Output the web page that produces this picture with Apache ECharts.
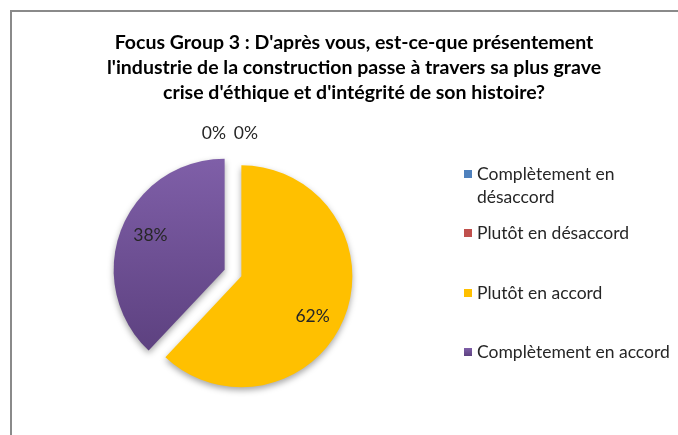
<!DOCTYPE html>
<html>
<head>
<meta charset="utf-8">
<script src="https://cdn.jsdelivr.net/npm/echarts@6/dist/echarts.min.js"></script>
<style>
  html, body { margin: 0; padding: 0; background: #ffffff; }
  #chart { width: 678px; height: 435px; }
</style>
</head>
<body>
<div id="chart"></div>
<script>
// Survey answers and their shares (percent)
const titleLines = [
  "Focus Group 3 : D'après vous, est-ce-que présentement",
  "l'industrie de la construction passe à travers sa plus grave",
  "crise d'éthique et d'intégrité de son histoire?"
];
const categories = [
  'Complètement en désaccord',
  'Plutôt en désaccord',
  'Plutôt en accord',
  'Complètement en accord'
];
const shares = [0, 0, 62, 38];
const colors = ['#4F81BD', '#C0504D', '#FFC000', '#8064A2'];

const FONT = 'Lato';

const purpleFill = new echarts.graphic.LinearGradient(0, 0, 0, 1, [
  { offset: 0, color: '#7F5FA8' },
  { offset: 1, color: '#5D4180' }
]);
const sliceFill = [colors[0], colors[1], colors[2], purpleFill];

const pieCenter = [233, 273];
const pieRadius = 111;

// Nudges for the value labels (dx, dy) so they sit where the slice labels belong
const labelNudge = [[-2, -11.5], [30, -11.5], [-6, 9], [3, -4]];

const chart = echarts.init(document.getElementById('chart'), null, { renderer: 'canvas' });

const sliceData = categories.map((name, i) => ({
  name: name,
  value: shares[i],
  selected: true,
  itemStyle: { color: sliceFill[i] }
}));

const labelData = categories.map((name, i) => ({
  name: name,
  value: shares[i],
  selected: true,
  label: shares[i] === 0
    ? { position: 'outside' }
    : { position: 'inside' }
}));

// Legend: one block per entry so the gaps follow the layout of the original
const legendTops = [139.5, 221.5, 281.5, 340.5];
const legends = categories.map((name, i) => ({
  data: [name],
  orient: 'vertical',
  left: 464,
  top: legendTops[i],
  padding: 0,
  itemWidth: 8,
  itemHeight: 8,
  icon: 'rect',
  selectedMode: false,
  // the first entry wraps on two lines, with its marker beside the first line
  formatter: n => n === 'Complètement en désaccord' ? '\nComplètement en\ndésaccord' : n,
  textStyle: {
    fontFamily: FONT,
    fontSize: 17.5,
    color: '#262626',
    lineHeight: 23
  }
}));

chart.setOption({
  animation: false,
  color: colors,
  title: {
    text: titleLines.join('\n'),
    left: 349,
    top: 25.5,
    textAlign: 'center',
    textStyle: {
      fontFamily: FONT,
      fontSize: 19.5,
      fontWeight: 'bold',
      color: '#000000',
      lineHeight: 25
    }
  },
  legend: legends,
  graphic: [{
    type: 'rect',
    shape: { x: 11, y: 11, width: 720, height: 480 },
    style: { fill: 'none', stroke: '#8A8A8A', lineWidth: 2 },
    silent: true,
    z: -10
  }],
  series: [
    {
      name: 'slices',
      type: 'pie',
      center: pieCenter,
      radius: [0, pieRadius],
      startAngle: 90,
      clockwise: true,
      selectedMode: 'multiple',
      selectedOffset: 9,
      avoidLabelOverlap: false,
      label: { show: false },
      labelLine: { show: false },
      emphasis: { disabled: true },
      select: { itemStyle: { borderWidth: 0 } },
      itemStyle: {
        borderWidth: 0,
        shadowBlur: 6,
        shadowOffsetY: 3,
        shadowColor: 'rgba(0,0,0,0.35)'
      },
      data: sliceData
    },
    {
      name: 'labels',
      type: 'pie',
      center: pieCenter,
      radius: [49, pieRadius],
      startAngle: 90,
      clockwise: true,
      selectedMode: 'multiple',
      selectedOffset: 9,
      avoidLabelOverlap: false,
      silent: true,
      itemStyle: { color: 'rgba(0,0,0,0)', borderWidth: 0 },
      emphasis: { disabled: true },
      label: {
        show: true,
        formatter: p => p.value + '%',
        fontFamily: FONT,
        fontSize: 17.5,
        color: '#262626'
      },
      labelLine: { show: false, length: 8, length2: 0 },
      labelLayout: p => ({ dx: labelNudge[p.dataIndex][0], dy: labelNudge[p.dataIndex][1] }),
      data: labelData
    }
  ]
});
</script>
</body>
</html>
